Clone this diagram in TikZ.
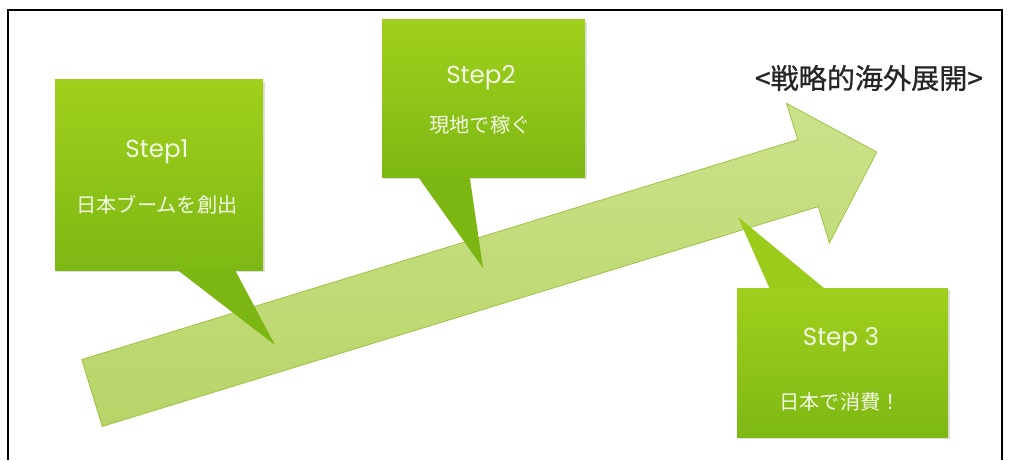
\documentclass[tikz,border=0pt]{standalone}
\usepackage{fontspec}
\setmainfont{Poppins}
\newfontfamily\jpfont{Noto Sans CJK JP}
\newfontfamily\titlefont[FakeBold=0.8]{Noto Sans CJK JP}
\usepackage{xcolor}
\usepackage{tikz}
\usetikzlibrary{calc,shadows}

\definecolor{boxtop}{RGB}{160,208,28}
\definecolor{boxbot}{RGB}{126,184,20}
\definecolor{tailgreen}{RGB}{124,182,18}
\definecolor{arrowtop}{RGB}{204,226,138}
\definecolor{arrowbot}{RGB}{184,212,104}
\definecolor{arrowedge}{RGB}{150,192,56}
\definecolor{boxtext}{RGB}{242,250,228}

\begin{document}
\begin{tikzpicture}[
    stepbox/.style={rectangle, inner sep=0pt, top color=boxtop, bottom color=boxbot,
        drop shadow={opacity=0.25, shadow xshift=0.04cm, shadow yshift=-0.04cm}},
    tail/.style={fill=tailgreen},
    steplabel/.style={font=\fontsize{14}{17}\selectfont, text=boxtext},
    jplabel/.style={font=\jpfont\fontsize{11.5}{14}\selectfont, text=boxtext}
]
\useasboundingbox (0,0) rectangle (20.2,9.2);
% frame
\draw[line width=1pt] (0.16,0) |- (20.04,9.0) -- (20.04,0);

% big arrow
\coordinate (start) at (1.84,1.34);
\begin{scope}[shift={(start)}, rotate=17.07]
  \draw[arrowedge, thin, top color=arrowtop, bottom color=arrowbot]
    (0,-0.7) -- (14.98,-0.7) -- (14.98,-1.46) -- (16.42,0)
    -- (14.98,1.46) -- (14.98,0.7) -- (0,0.7) -- cycle;
\end{scope}

% Step1
\coordinate (tip1) at (5.50,2.30);
\node[stepbox, minimum width=4.16cm, minimum height=3.8cm] (s1) at (3.18,5.7) {};
\fill[tail] ($(s1.south west)+(2.44,0.02)$) -- (tip1) -- ($(s1.south west)+(3.60,0.02)$) -- cycle;
\node[steplabel] (s1a) at (3.14,6.16) {Step1};
\node[jplabel] (s1b) at (3.14,5.10) {日本ブームを創出};

% Step2
\coordinate (tip2) at (9.66,3.84);
\node[stepbox, minimum width=4.06cm, minimum height=3.14cm] (s2) at (9.67,7.23) {};
\fill[tail] ($(s2.south west)+(0.72,0.02)$) -- (tip2) -- ($(s2.south west)+(1.76,0.02)$) -- cycle;
\node[steplabel] (s2a) at (9.62,7.64) {Step2};
\node[jplabel] (s2b) at (9.60,6.70) {現地で稼ぐ};

% Step3
\coordinate (tip3) at (14.76,4.86);
\node[stepbox, minimum width=4.22cm, minimum height=2.98cm] (s3) at (16.85,1.95) {};
\fill[fill=boxtop!85!boxbot] ($(s3.north west)+(0.66,-0.02)$) -- (tip3) -- ($(s3.north west)+(1.76,-0.02)$) -- cycle;
\node[steplabel] (s3a) at (16.82,2.40) {Step 3};
\node[jplabel] (s3b) at (16.80,1.16) {日本で消費！};

% title
\node[font=\titlefont\fontsize{16}{19}\selectfont, text=black!85] (title) at (17.38,7.64) {<戦略的海外展開>};
\end{tikzpicture}
\end{document}
